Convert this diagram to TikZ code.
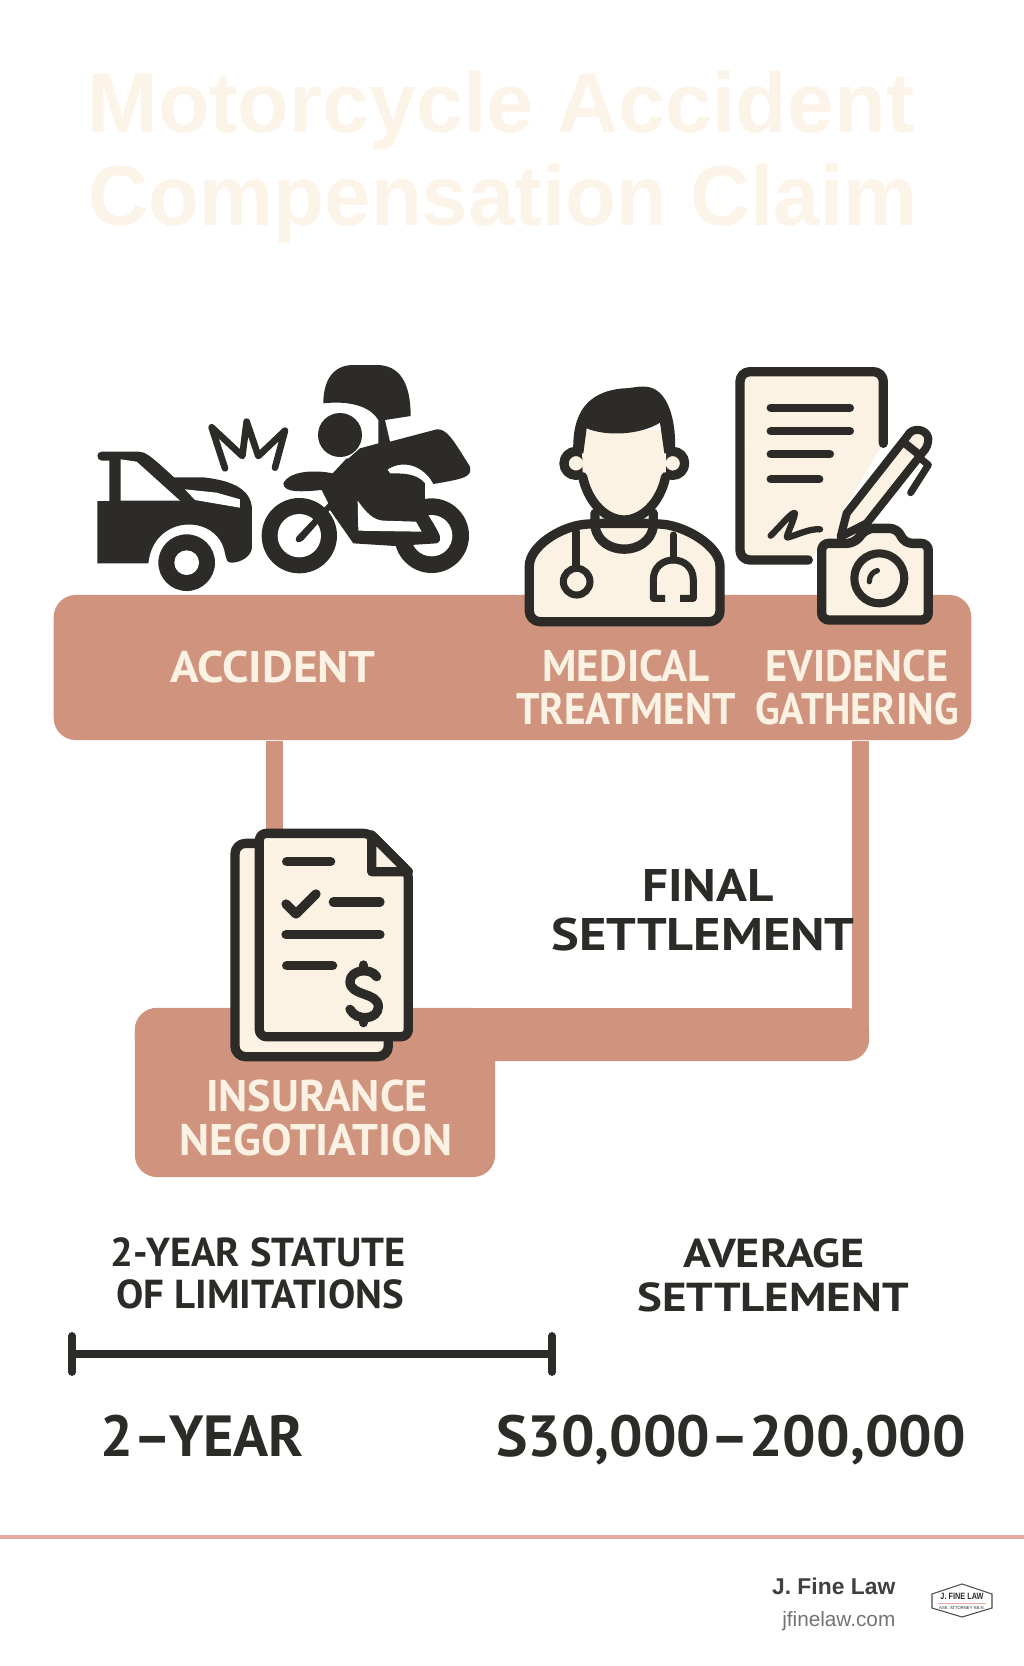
\documentclass[tikz,border=0pt]{standalone}
\usepackage{fontspec}
\usepackage{graphicx}
\usetikzlibrary{positioning}
\setmainfont{Liberation Sans}
\newfontfamily\labelfont{PT Sans}
\definecolor{myclay}{RGB}{208,148,126}
\definecolor{mycream}{RGB}{251,242,228}
\definecolor{myink}{RGB}{44,43,39}
\definecolor{mytitle}{RGB}{253,244,233}
\definecolor{myrule}{RGB}{232,170,160}
\newcommand{\squeeze}[2]{\scalebox{#1}[1]{#2}}

\begin{document}
\begin{tikzpicture}[
    x=0.01cm, y=-0.01cm,
    panel/.style={rectangle, fill=myclay, rounded corners=0.22cm, inner sep=0pt},
    link/.style={draw=myclay, line width=4.8pt},
    title/.style={font=\bfseries\fontsize{24.2}{24.2}\selectfont, mytitle, inner sep=0pt},
    onclay/.style={font=\labelfont\bfseries\fontsize{12.6}{12.6}\selectfont, mycream, inner sep=0pt},
    onwhite/.style={font=\labelfont\bfseries\fontsize{13}{13}\selectfont, myink, inner sep=0pt},
    smallhead/.style={font=\labelfont\bfseries\fontsize{11.5}{11.5}\selectfont, myink, inner sep=0pt},
    figure/.style={font=\labelfont\bfseries\fontsize{16.5}{16.5}\selectfont, myink, inner sep=0pt},
    ink/.style={draw=myink, line width=2.65pt, line join=round, line cap=round},
    sheet/.style={ink, fill=mycream},
    gap/.style={fill=white}
]
\useasboundingbox (0,0) rectangle (1024,1666);
\fill[white] (0,0) rectangle (1024,1666);

% ========== title ==========
\node[title] (title1) at (501,110) {\squeeze{.993}{Motorcycle Accident}};
\node[title] (title2) at (503,203) {\squeeze{.979}{Compensation Claim}};

% ========== panels and links ==========
\coordinate (docin) at (274.5,850);
\coordinate (elbow) at (860.5,1030);
\node[panel, minimum width=9.17cm, minimum height=1.45cm] (topband) at (512.5,667.5) {};
\node[panel, minimum width=7.34cm, minimum height=0.53cm] (settlebar) at (502,1034.5) {};
\node[panel, minimum width=3.60cm, minimum height=1.69cm] (negbox) at (315,1092.5) {};
\draw[link] (topband.south -| docin) -- (docin);
\draw[link] (topband.south -| elbow) -- (elbow);

% ========== crash icon ==========
\begin{scope}[shift={(70,340)}, scale=1/3]
\fill[myink] (82,670) -- (82,483) -- (118,483) -- (118,362) -- (95,362) .. controls (78,360) and (78,335) .. (95,335) -- (205,335) .. controls (225,335) and (240,345) .. (312,412) -- (400,412) .. controls (470,420) and (546,440) .. (546,510) -- (546,620) .. controls (546,650) and (510,668) .. (485,668) .. controls (470,668) and (470,660) .. (465,640) .. controls (445,520) and (250,520) .. (235,670) -- cycle;
\fill[gap] (152,358) -- (200,365) -- (330,482) -- (152,482) -- cycle;
\fill[gap] (345,448) -- (440,458) -- (510,478) -- (510,503) -- (375,480) -- cycle;
\fill[myink] (350,668) circle (85);
\fill[gap] (350,668) circle (37);
\draw[ink, line width=1.9pt] (465,385) -- (425,262) -- (517,348) -- (530,245) -- (565,348) -- (645,272) -- (615,383);
% motorcycle
\fill[myink] (688,587) circle (113);
\fill[gap] (688,587) circle (65);
\fill[myink] (1085,587) circle (112);
\fill[gap] (1085,587) circle (62);
\fill[myink] (760,190) .. controls (760,120) and (790,75) .. (850,75) -- (920,75) .. controls (990,75) and (1022,130) .. (1022,228) -- (945,240) -- (960,305) -- (1100,268) .. controls (1130,265) and (1150,300) .. (1200,380) .. controls (1205,410) and (1190,415) .. (1090,432) .. controls (1070,390) and (1010,350) .. (950,390) -- (830,360) -- (870,325) -- (925,310) -- (925,240) .. controls (905,205) and (850,180) .. (760,190) -- cycle;
\fill[myink] (810,285) circle (66);
\fill[myink] (830,355) -- (788,400) .. controls (740,390) and (660,390) .. (640,430) .. controls (640,460) and (700,455) .. (755,450) -- (775,490) -- (680,590) .. controls (670,610) and (690,610) .. (700,600) -- (780,510) -- (850,610) -- (975,618) -- (1100,610) .. controls (1120,600) and (1110,585) .. (1090,550) -- (1065,510) -- (1065,430) .. controls (1040,400) and (1000,400) .. (960,400) -- (950,385) -- cycle;
\fill[gap] (863,482) .. controls (890,520) and (910,540) .. (940,542) -- (1038,545) -- (1055,575) -- (865,572) -- cycle;
\end{scope}

% ========== doctor icon and evidence icon ==========
\begin{scope}[shift={(500,350)}, scale=1/3]
% doctor body
\draw[sheet, rounded corners=3pt] (88,815) -- (88,680) .. controls (88,590) and (180,530) .. (285,520) -- (460,520) .. controls (560,530) and (660,590) .. (660,680) -- (660,815) -- cycle;
\draw[ink] (285,490) -- (285,530) .. controls (300,620) and (445,620) .. (460,530) -- (460,490);
\draw[sheet] (228,340) circle (36);
\draw[sheet] (518,340) circle (36);
\fill[mycream] (245,240) -- (248,380) .. controls (265,460) and (320,510) .. (372,510) .. controls (425,510) and (480,460) .. (497,380) -- (500,240) -- cycle;
\draw[ink] (248,380) .. controls (265,460) and (320,510) .. (372,510) .. controls (425,510) and (480,460) .. (497,380);
\fill[myink] (220,310) .. controls (215,190) and (260,125) .. (370,115) .. controls (400,115) and (420,105) .. (450,112) .. controls (500,125) and (530,200) .. (525,310) -- (493,310) -- (480,218) .. controls (420,255) and (320,260) .. (260,235) -- (250,310) -- cycle;
\draw[ink, line width=2pt] (228,545) -- (228,650);
\draw[ink, line width=2pt] (230,695) circle (40);
\draw[ink, line width=2pt] (520,555) -- (520,630);
\draw[ink, line width=2pt, line cap=butt] (495,745) -- (460,745) -- (460,690) .. controls (460,610) and (580,610) .. (580,690) -- (580,745) -- (540,745);
% paper
\fill[mycream] (720,65) rectangle (1150,280);
\fill[mycream] (720,280) -- (1150,280) -- (1030,480) -- (1010,560) -- (950,600) -- (930,630) -- (720,630) -- cycle;
\draw[ink, rounded corners=2.8pt] (925,630) -- (720,630) -- (720,65) -- (1150,65) -- (1150,280);
\foreach \ly/\lx in {173/1050, 244/1050, 313/990, 388/958}
  \draw[ink, line width=2.3pt] (812,\ly) -- (\lx,\ly);
\draw[ink, line width=1.8pt] (812,557) .. controls (840,530) and (880,480) .. (885,490) .. controls (880,520) and (850,570) .. (865,562) .. controls (890,555) and (930,535) .. (960,538);
% pen
\draw[ink, fill=mycream, line width=2.3pt] (1022,560) -- (1040,490) -- (1222,258) .. controls (1235,230) and (1280,235) .. (1285,265) .. controls (1285,280) and (1280,295) .. (1270,305) -- (1100,520) -- cycle;
\draw[ink, line width=2.3pt] (1215,280) -- (1255,312);
\draw[ink, line width=2pt] (1255,320) -- (1285,345) -- (1232,428);
% camera
\draw[sheet, rounded corners=2pt] (965,580) -- (1062,580) -- (1100,535) -- (1190,535) -- (1215,580) -- (1285,580) -- (1285,810) -- (965,810) -- cycle;
\draw[ink, line width=2.3pt] (1138,685) circle (75);
\draw[ink, line width=1.5pt] (1108,695) .. controls (1108,675) and (1120,665) .. (1132,662);
\end{scope}

% ========== negotiation icon ==========
\begin{scope}[shift={(210,810)}, scale=1/3]
\fill[mycream] (75,100) rectangle (535,740);
\draw[ink, rounded corners=3pt] (148,100) -- (75,100) -- (75,740) -- (535,740) -- (535,680);
\draw[sheet, rounded corners=2pt] (148,70) -- (480,70) -- (595,185) -- (595,680) -- (148,680) -- cycle;
\draw[sheet] (485,75) -- (595,185) -- (485,185) -- cycle;
\foreach \ly/\la/\lb in {155/230/362, 276/370/510, 374/228/510, 467/230/368}
  \draw[ink] (\la,\ly) -- (\lb,\ly);
\draw[ink] (228,282) -- (258,312) -- (318,252);
\draw[ink] (500,500) .. controls (480,470) and (420,480) .. (420,515) .. controls (420,560) and (505,545) .. (505,590) .. controls (505,630) and (440,635) .. (420,598);
\draw[ink] (460,465) -- (460,480);
\draw[ink] (460,625) -- (460,638);
\end{scope}

% ========== labels ==========
\node[onclay] (accident) at (273,667) {\squeeze{1.07}{ACCIDENT}};
\node[onclay] (medical) at (626,666) {\squeeze{.97}{MEDICAL}};
\node[onclay, below=0.09cm of medical] (treatment) {\squeeze{.93}{TREATMENT}};
\node[onclay] (evidence) at (857,666) {\squeeze{.955}{EVIDENCE}};
\node[onclay, below=0.09cm of evidence] (gathering) {\squeeze{.913}{GATHERING}};
\node[onwhite] (final) at (708,885) {\squeeze{1.12}{FINAL}};
\node[onwhite] (settlement) at (703,934) {\squeeze{1.146}{SETTLEMENT}};
\node[onclay] (insurance) at (317,1096) {\squeeze{1.0}{INSURANCE}};
\node[onclay] (negotiation) at (316,1140) {\squeeze{1.03}{NEGOTIATION}};
\node[smallhead] (statute) at (258,1252) {2-YEAR STATUTE};
\node[smallhead] (limits) at (260,1294) {\squeeze{1.01}{OF LIMITATIONS}};
\node[smallhead] (average) at (774,1253) {\squeeze{1.14}{AVERAGE}};
\node[smallhead] (avgsettle) at (773,1297) {\squeeze{1.16}{SETTLEMENT}};
\node[figure] (years) at (202,1436) {2–YEAR};
\node[figure] (amount) at (731,1440) {\squeeze{1.02}{S30,000–200,000}};

% ========== timeline ==========
\coordinate (barstart) at (72,1354);
\coordinate (barend) at (552,1354);
\draw[ink, line width=2.2pt, line cap=butt] (barstart) -- (barend);
\draw[ink, line width=2.2pt] ([yshift=0.18cm]barstart) -- ([yshift=-0.18cm]barstart);
\draw[ink, line width=2.2pt] ([yshift=0.18cm]barend) -- ([yshift=-0.18cm]barend);

% ========== footer ==========
\draw[myrule, line width=0.9pt] (0,1537) -- (1024,1537);
\node[anchor=east, inner sep=0pt, font=\bfseries\fontsize{6.5}{6.5}\selectfont, black!75] (brand) at (896,1586) {J. Fine Law};
\node[anchor=east, inner sep=0pt, font=\fontsize{5.9}{5.9}\selectfont, black!55] (site) at (896,1621) {jfinelaw.com};
\draw[black!70, line width=0.3pt, fill=white] (932,1594) -- (962,1584) -- (992,1594) -- (992,1608) -- (962,1617) -- (932,1608) -- cycle;
\draw[myrule, line width=0.25pt] (938,1603) -- (986,1603);
\node[inner sep=0pt, font=\bfseries\fontsize{2.6}{2.6}\selectfont, myink] (logotop) at (962,1596.5) {\squeeze{.8}{J. FINE LAW}};
\node[inner sep=0pt, font=\fontsize{1.2}{1.2}\selectfont, myink] (logosub) at (962,1608) {ASK. ATTORNEY KB.N.};
\end{tikzpicture}
\end{document}
